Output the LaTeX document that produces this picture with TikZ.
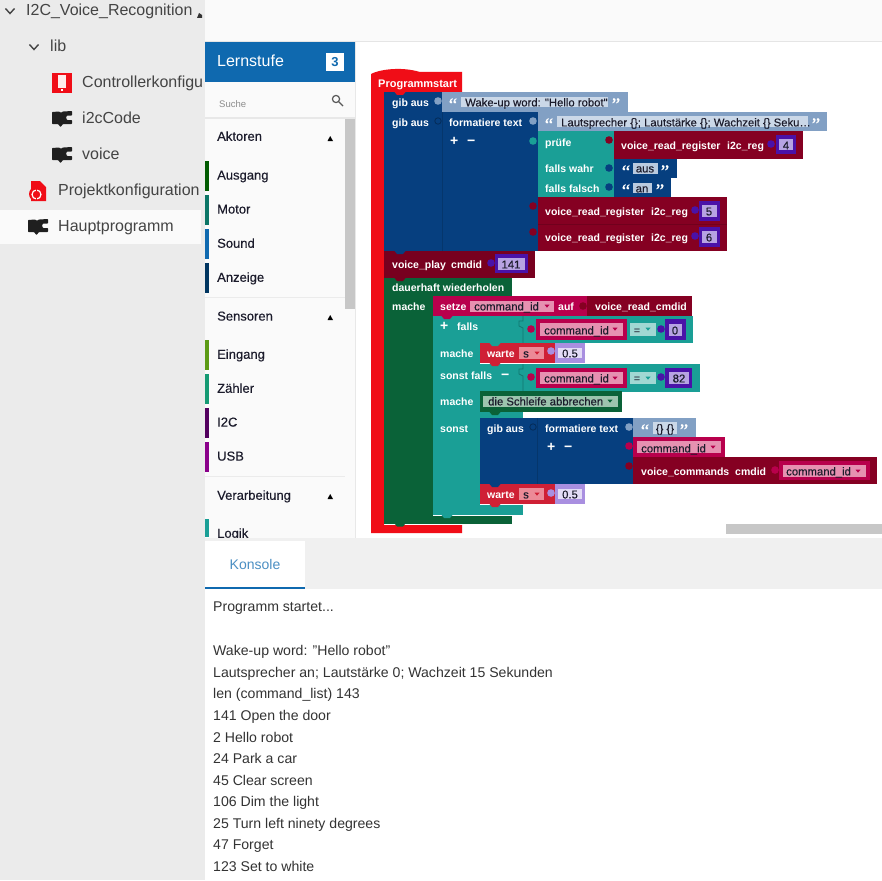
\documentclass[tikz,border=0pt]{standalone}
\usepackage{fontspec}
\setmainfont{Liberation Sans}
\newfontfamily\medf{Liberation Sans}[FakeBold=0.3]
\newfontfamily\qf{Liberation Serif}[FakeBold=0.6]
\definecolor{cRed}{HTML}{F00D17}
\definecolor{cBlue}{HTML}{063F7F}
\definecolor{cLB}{HTML}{82A0C4}
\definecolor{cLF}{HTML}{CBD8E8}
\definecolor{cTeal}{HTML}{1A9F96}
\definecolor{cMar}{HTML}{850022}
\definecolor{cPur}{HTML}{4A12A8}
\definecolor{cPurF}{HTML}{B7A3E3}
\definecolor{cGrn}{HTML}{0A6238}
\definecolor{cCrim}{HTML}{B8004C}
\definecolor{cCrimF}{HTML}{E691B1}
\definecolor{cWar}{HTML}{CF2035}
\definecolor{cWarF}{HTML}{EC8A97}
\definecolor{cLav}{HTML}{A98FE0}
\definecolor{cLavF}{HTML}{E3DCF6}
\definecolor{cEq}{HTML}{A0D8D3}
\definecolor{cGrnF}{HTML}{9CC4AE}
\definecolor{cPanel}{HTML}{EBEBEB}
\definecolor{cSide}{HTML}{FAFAFA}
\definecolor{cHead}{HTML}{0F69AF}
\definecolor{cTxt}{HTML}{444444}
\definecolor{cIn}{HTML}{1B1B2B}
\newcounter{tnum}
\tikzset{
  wb/.style={font=\fontsize{10.5}{11}\selectfont\bfseries,text=white},
  fd/.style={font=\fontsize{11.3}{12}\selectfont\medf,text=cIn},
  pm/.style={font=\fontsize{14}{14}\selectfont\bfseries,text=white},
  tree/.style={font=\fontsize{16}{16}\selectfont,text=cTxt},
  cat/.style={font=\fontsize{13}{13}\selectfont\medf,text=cIn},
  con/.style={font=\fontsize{14.1}{14}\selectfont,text=black!80},
}
\newcommand{\B}[5]{\fill[#1] (#2,#3) rectangle (#4,#5);}
\newcommand{\Dot}[3]{\fill[#1] (#2,#3) circle[radius=3.8];}
\newcommand{\Nt}[3]{\fill[#1] (#2-5.5,#3) -- (#2-3,#3+3) -- (#2+3,#3+3) -- (#2+5.5,#3) -- cycle;}
\newcommand{\Tri}[3]{\fill[#1] (#2-2.5,#3-1.3) -- (#2+2.5,#3-1.3) -- (#2,#3+1.7) -- cycle;}
\newcommand{\Tl}[4]{\stepcounter{tnum}\node[#1,anchor=west,inner sep=0pt,yshift=-2pt] (t\thetnum) at (#2,#3) {\strut #4};}
\newcommand{\Tc}[4]{\stepcounter{tnum}\node[#1,anchor=center,inner sep=0pt,yshift=-2pt] (t\thetnum) at (#2,#3) {\strut #4};}
\newcommand{\Qq}[3]{\stepcounter{tnum}\node[font=\fontsize{19}{19}\selectfont\qf,text=white,anchor=base,inner sep=0pt] (t\thetnum) at (#1,#2+11) {#3};}
\newcommand{\Puz}[3]{\begin{scope}[shift={(#2,#3)}]
 \fill[#1,rounded corners=.6pt] (0,1) -- (7,0.5) -- (9,1.8) -- (11,0.5) -- (20,0) -- (20,4.5) -- (15,4.5) -- (14,6.5) -- (15,9) -- (20,9) -- (20,13) -- (11,13) -- (8.5,16) -- (6,13) -- (0,13) -- cycle;
\end{scope}}
\begin{document}
\begin{tikzpicture}[x=1pt,y=-1pt]
\useasboundingbox (0,0) rectangle (882,880);
% panels
\B{white}{0}{0}{882}{880}
\B{cPanel}{0}{0}{205}{880}
\B{cSide}{0}{210}{201}{244}
\B{cSide}{205}{0}{882}{41}
\B{black!10}{205}{41}{882}{42}
\B{cSide}{205}{82}{355}{538}
\B{black!9}{355}{42}{356}{538}
\B{cHead}{205}{42}{355}{82}
\B{black!9}{205}{117}{355}{118.5}
\B{black!22}{345}{119}{355}{309}
\B{white}{326}{53}{344}{71}
\Tc{font=\fontsize{13}{13}\selectfont\bfseries,text=cHead}{335}{62}{3}
\Tl{font=\fontsize{16}{16}\selectfont,text=white}{217}{61}{Lernstufe}
\Tl{font=\fontsize{9.5}{10}\selectfont,text=black!45}{219}{103}{Suche}
\draw[black!65,line width=1.2pt] (336,99) circle[radius=3.6] (339,102) -- (343,106);
% category list
\foreach \a/\b/\c in {161/191/005A00,195/225/0B7566,229/259/0F69AF,263/293/003560,340/370/5B9A14,374/404/159A73,408/438/52005E,442/472/8A008A,519/537/1A9F96}{
  \definecolor{tmpc}{HTML}{\c}\fill[tmpc] (205,\a) rectangle (209,\b);}
\B{black!8}{205}{297}{345}{298}
\B{black!8}{205}{476}{345}{477}
\Tl{cat}{217}{136}{Aktoren}
\Tl{cat}{217}{175}{Ausgang}
\Tl{cat}{217}{209}{Motor}
\Tl{cat}{217}{243}{Sound}
\Tl{cat}{217}{277}{Anzeige}
\Tl{cat}{217}{316}{Sensoren}
\Tl{cat}{217}{354}{Eingang}
\Tl{cat}{217}{388}{Zähler}
\Tl{cat}{217}{422}{I2C}
\Tl{cat}{217}{456}{USB}
\Tl{cat}{217}{495}{Verarbeitung}
\Tl{cat}{217}{533}{Logik}
\foreach \yy in {138,317,496}{\fill[black] (327.5,\yy+3) -- (333,\yy+3) -- (330.2,\yy-2) -- cycle;}
% tree
\draw[cTxt,line width=1.4pt] (5.5,8.5) -- (10,13.5) -- (14.5,8.5);
\draw[cTxt,line width=1.4pt] (29.5,44.5) -- (34,49.5) -- (38.5,44.5);
\Tl{tree}{26}{10}{I2C\_Voice\_Recognition}
\fill[black!80] (197,18) -- (199,13) -- (202,15) -- (202,18) -- cycle;
\Tl{tree}{50}{46}{lib}
\fill[cRed] (52,73) rectangle (72,93);
\fill[white!92!red] (58,75) rectangle (66,88);
\fill[white] (61,89.5) rectangle (63,91.5);
\Tl{tree}{82}{82}{Controllerkonfigu}
\Puz{black!88}{52}{111}
\Tl{tree}{82}{118}{i2cCode}
\Puz{black!88}{52}{147}
\Tl{tree}{82}{154}{voice}
\fill[cRed] (31,181) -- (40,181) -- (46,187) -- (46,201) -- (31,201) -- cycle;
\fill[cRed] (36,194) circle[radius=7];
\draw[white,line width=1.2pt] (36.5,194.5) ellipse[x radius=4.5,y radius=4.5];
\draw[cRed,line width=1.6pt] (36.5,189) -- (36.5,200);
\Tl{tree}{58}{190}{Projektkonfiguration}
\Puz{black!88}{28}{219}
\Tl{tree}{58}{226}{Hauptprogramm}
% bottom console
\B{black!6}{205}{538}{882}{589}
\B{white}{205}{541}{305}{587}
\B{cHead}{205}{587}{305}{589}
\Tc{font=\fontsize{14}{14}\selectfont,text=cHead!75!white}{255}{565}{Konsole}
\Tl{con}{213}{607}{Programm startet...}
\Tl{con}{213}{650}{Wake-up word: "Hello robot"}
\Tl{con}{213}{672}{Lautsprecher an; Lautstärke 0; Wachzeit 15 Sekunden}
\Tl{con}{213}{693}{len (command\_list) 143}
\Tl{con}{213}{715}{141 Open the door}
\Tl{con}{213}{737}{2 Hello robot}
\Tl{con}{213}{758}{24 Park a car}
\Tl{con}{213}{780}{45 Clear screen}
\Tl{con}{213}{801}{106 Dim the light}
\Tl{con}{213}{823}{25 Turn left ninety degrees}
\Tl{con}{213}{845}{47 Forget}
\Tl{con}{213}{866}{123 Set to white}
% canvas scrollbar
\B{black!22}{726}{524}{882}{534}
% ---------- Programmstart
\fill[cRed] (371,533) -- (371,74) .. controls (378,70) and (400,66) .. (420,72) -- (462,72) -- (462,92) -- (384,92) -- (384,525) -- (462,525) -- (462,533) -- cycle;
\Tl{wb}{378}{83}{\fontsize{11}{11}\selectfont Programmstart}
% gib aus 1
\B{cBlue}{384}{92}{442}{112}
\B{cLB}{442}{92}{628}{112}
\B{cLF}{461}{97}{608}{107}
\Dot{cLB}{438}{101}
\Nt{cRed}{400}{92}
\Tl{wb}{392}{102}{gib aus}
\Qq{453}{100}{“}
\Tl{fd}{465}{102}{Wake-up word: "Hello robot"}
\Qq{616}{100}{”}
% gib aus 2
\B{cBlue}{384}{112}{538}{251}
\B{cBlue!85!black}{441.5}{112}{442.5}{251}
\B{cLB}{538}{112}{827}{131}
\B{cLF}{557}{116}{808}{127}
\Nt{cBlue}{400}{112}
\draw[cBlue!70!black,line width=.8pt] (438,121) circle[radius=3.2];
\Dot{cLB}{533}{121}
\Tl{wb}{392}{122}{gib aus}
\Tl{wb}{449}{122}{formatiere text}
\Qq{549}{120}{“}
\Tl{fd}{561}{122}{Lautsprecher \{\}; Lautstärke \{\}; Wachzeit \{\} Seku…}
\Qq{816}{120}{”}
\Tl{pm}{450}{141}{+}
\Tl{pm}{467}{141}{−}
% pruefe
\B{cTeal}{538}{131}{614}{197}
\Dot{cTeal}{533}{141}
\Tl{wb}{545}{142}{prüfe}
\Tl{wb}{545}{168}{falls wahr}
\Tl{wb}{545}{188}{falls falsch}
\B{cMar}{614}{131}{803}{159}
\Dot{cMar}{609}{140}
\Tl{wb}{621}{145}{voice\_read\_register}
\Tl{wb}{727}{145}{i2c\_reg}
\B{cPur}{776}{135}{796}{154}
\B{cPurF}{779}{139}{793}{150}
\Dot{cPur}{771}{144}
\Tc{fd}{786}{145}{4}
\B{cBlue}{614}{159}{677}{178}
\B{cLF!75!cLB}{633}{163}{658}{174}
\Dot{cBlue}{609}{168}
\Qq{626}{167}{“}
\Tc{fd}{645}{168}{aus}
\Qq{665}{167}{”}
\B{cBlue}{614}{178}{671}{197}
\B{cLF!75!cLB}{633}{183}{652}{193}
\Dot{cBlue}{609}{187}
\Qq{626}{186}{“}
\Tc{fd}{642}{188}{an}
\Qq{660}{186}{”}
% vrr 5,6
\B{cMar}{538}{197}{727}{251}
\B{cMar!85!black}{538}{223.5}{727}{224.5}
\Dot{cMar}{533}{206}
\Dot{cMar}{533}{232}
\Tl{wb}{545}{211}{voice\_read\_register}
\Tl{wb}{651}{211}{i2c\_reg}
\Tl{wb}{545}{237}{voice\_read\_register}
\Tl{wb}{651}{237}{i2c\_reg}
\B{cPur}{699}{201}{720}{221}
\B{cPurF}{702}{205}{717}{217}
\Dot{cPur}{695}{210}
\Tc{fd}{709}{211}{5}
\B{cPur}{699}{227}{720}{247}
\B{cPurF}{702}{231}{717}{243}
\Dot{cPur}{695}{236}
\Tc{fd}{709}{237}{6}
% voice_play
\B{cMar!90!black}{384}{251}{535}{278}
\Nt{cBlue}{400}{251}
\Tl{wb}{392}{264}{voice\_play}
\Tl{wb}{451}{264}{cmdid}
\B{cPur}{495}{254}{528}{273}
\B{cPurF}{498}{258}{525}{270}
\Dot{cPur}{491}{263}
\Tc{fd}{511}{264}{141}
% dauerhaft
\B{cGrn}{384}{278}{512}{296}
\B{cGrn}{384}{296}{433}{516}
\B{cGrn}{384}{516}{512}{523.5}
\Nt{cMar!90!black}{400}{278}
\Nt{cGrn}{400}{523.5}
\Tl{wb}{392}{287}{dauerhaft wiederholen}
\Tl{wb}{392}{306}{mache}
% falls column
\B{cTeal}{433}{316}{480}{515}
\B{cTeal}{433}{316}{693}{343}
\B{cTeal}{433}{364}{700}{392}
\B{cTeal}{480}{412}{523}{418}
\B{cTeal}{480}{505}{523}{515}
\Nt{cTeal}{447}{515}
\draw[cTeal!75!black,line width=.7pt] (523,316) -- (523,321) -- (519,321) -- (519,326) -- (523,328) -- (523,343);
\draw[cTeal!75!black,line width=.7pt] (523,364) -- (523,369) -- (519,369) -- (519,374) -- (523,376) -- (523,392);
% setze
\B{cCrim}{433}{296}{587}{316}
\B{cCrimF}{470}{301}{554}{312}
\B{cMar}{587}{296}{692}{316}
\Dot{cMar}{583}{306}
\Nt{cCrim}{447}{316}
\Tl{wb}{440}{306}{setze}
\Tl{fd}{474}{306}{command\_id}
\Tri{cCrim}{547}{306}
\Tl{wb}{558}{306}{auf}
\Tl{wb}{595}{306}{voice\_read\_cmdid}
% falls row
\Tl{pm}{440}{326}{+}
\Tl{wb}{457}{326}{falls}
\B{cCrim}{536}{319}{627}{340}
\B{cCrimF}{540}{323}{623}{336}
\Dot{cCrim}{531}{329}
\Tl{fd}{544}{330}{command\_id}
\Tri{cCrim}{615}{329}
\B{cEq}{630}{323}{656}{336}
\Tc{font=\fontsize{11}{11}\selectfont,text=cIn}{637}{330}{=}
\Tri{cTeal}{648}{329}
\B{cPur}{665}{319}{686}{340}
\B{cPurF}{669}{324}{682}{336}
\Dot{cPur}{661}{329}
\Tc{fd}{675}{330}{0}
% warte 1
\Tl{wb}{440}{353}{mache}
\B{cWar}{480}{343}{555}{363}
\B{cWarF}{519}{347}{544}{359}
\B{cLav}{555}{343}{585}{363}
\B{cLavF}{558}{348}{582}{358}
\Dot{cLav}{551}{351}
\Nt{cTeal}{495}{343}
\Nt{cWar}{495}{363}
\Tl{wb}{487}{353}{warte}
\Tl{fd}{523}{353}{s}
\Tri{cWar}{537}{353}
\Tc{fd}{570}{353}{0.5}
% sonst falls
\Tl{wb}{440}{375}{sonst falls}
\Tl{pm}{501}{375}{−}
\B{cCrim}{536}{368}{627}{388}
\B{cCrimF}{540}{372}{623}{384}
\Dot{cCrim}{531}{377}
\Tl{fd}{544}{378}{command\_id}
\Tri{cCrim}{615}{378}
\B{cEq}{630}{372}{656}{384}
\Tc{font=\fontsize{11}{11}\selectfont,text=cIn}{637}{378}{=}
\Tri{cTeal}{648}{378}
\B{cPur}{665}{368}{692}{388}
\B{cPurF}{669}{372}{689}{384}
\Dot{cPur}{661}{377}
\Tc{fd}{679}{378}{82}
% Schleife
\Tl{wb}{440}{401}{mache}
\B{cGrn}{480}{391}{622}{412}
\B{cGrnF}{483}{396}{618}{407}
\Nt{cGrn}{495}{412}
\Tl{fd}{488}{401}{die Schleife abbrechen}
\Tri{cGrn}{610}{401}
% sonst
\Tl{wb}{440}{428}{sonst}
\B{cBlue}{480}{418}{633}{484}
\B{cBlue!85!black}{537}{418}{538}{484}
\draw[cBlue!70!black,line width=.8pt] (533,427) circle[radius=3.2];
\Dot{cLB}{629}{427}
\Dot{cCrim}{629}{446}
\Dot{cMar}{629}{466}
\Tl{wb}{487}{428}{gib aus}
\Tl{wb}{545}{428}{formatiere text}
\Tl{pm}{547}{447}{+}
\Tl{pm}{564}{447}{−}
\B{cLB}{633}{418}{696}{437}
\B{cLF}{653}{422}{677}{434}
\Qq{645}{426}{“}
\Tc{fd}{665}{428}{\{\} \{\}}
\Qq{684}{426}{”}
\B{cCrim}{633}{437}{725}{457}
\B{cCrimF}{637}{441}{721}{453}
\Tl{fd}{641}{448}{command\_id}
\Tri{cCrim}{713}{447}
\B{cMar}{633}{457}{877}{484}
\B{cCrim}{779}{461}{870}{480}
\B{cCrimF}{783}{465}{866}{477}
\Dot{cCrim}{775}{470}
\Tl{wb}{641}{471}{voice\_commands}
\Tl{wb}{735}{471}{cmdid}
\Tl{fd}{786}{471}{command\_id}
\Tri{cCrim}{858}{471}
% warte 2
\B{cWar}{480}{484}{555}{504}
\B{cWarF}{519}{488}{544}{500}
\B{cLav}{555}{484}{585}{504}
\B{cLavF}{558}{489}{582}{499}
\Dot{cLav}{551}{493}
\Nt{cBlue}{495}{484}
\Nt{cWar}{495}{504}
\Tl{wb}{487}{494}{warte}
\Tl{fd}{523}{494}{s}
\Tri{cWar}{537}{494}
\Tc{fd}{570}{494}{0.5}
\end{tikzpicture}
\end{document}
